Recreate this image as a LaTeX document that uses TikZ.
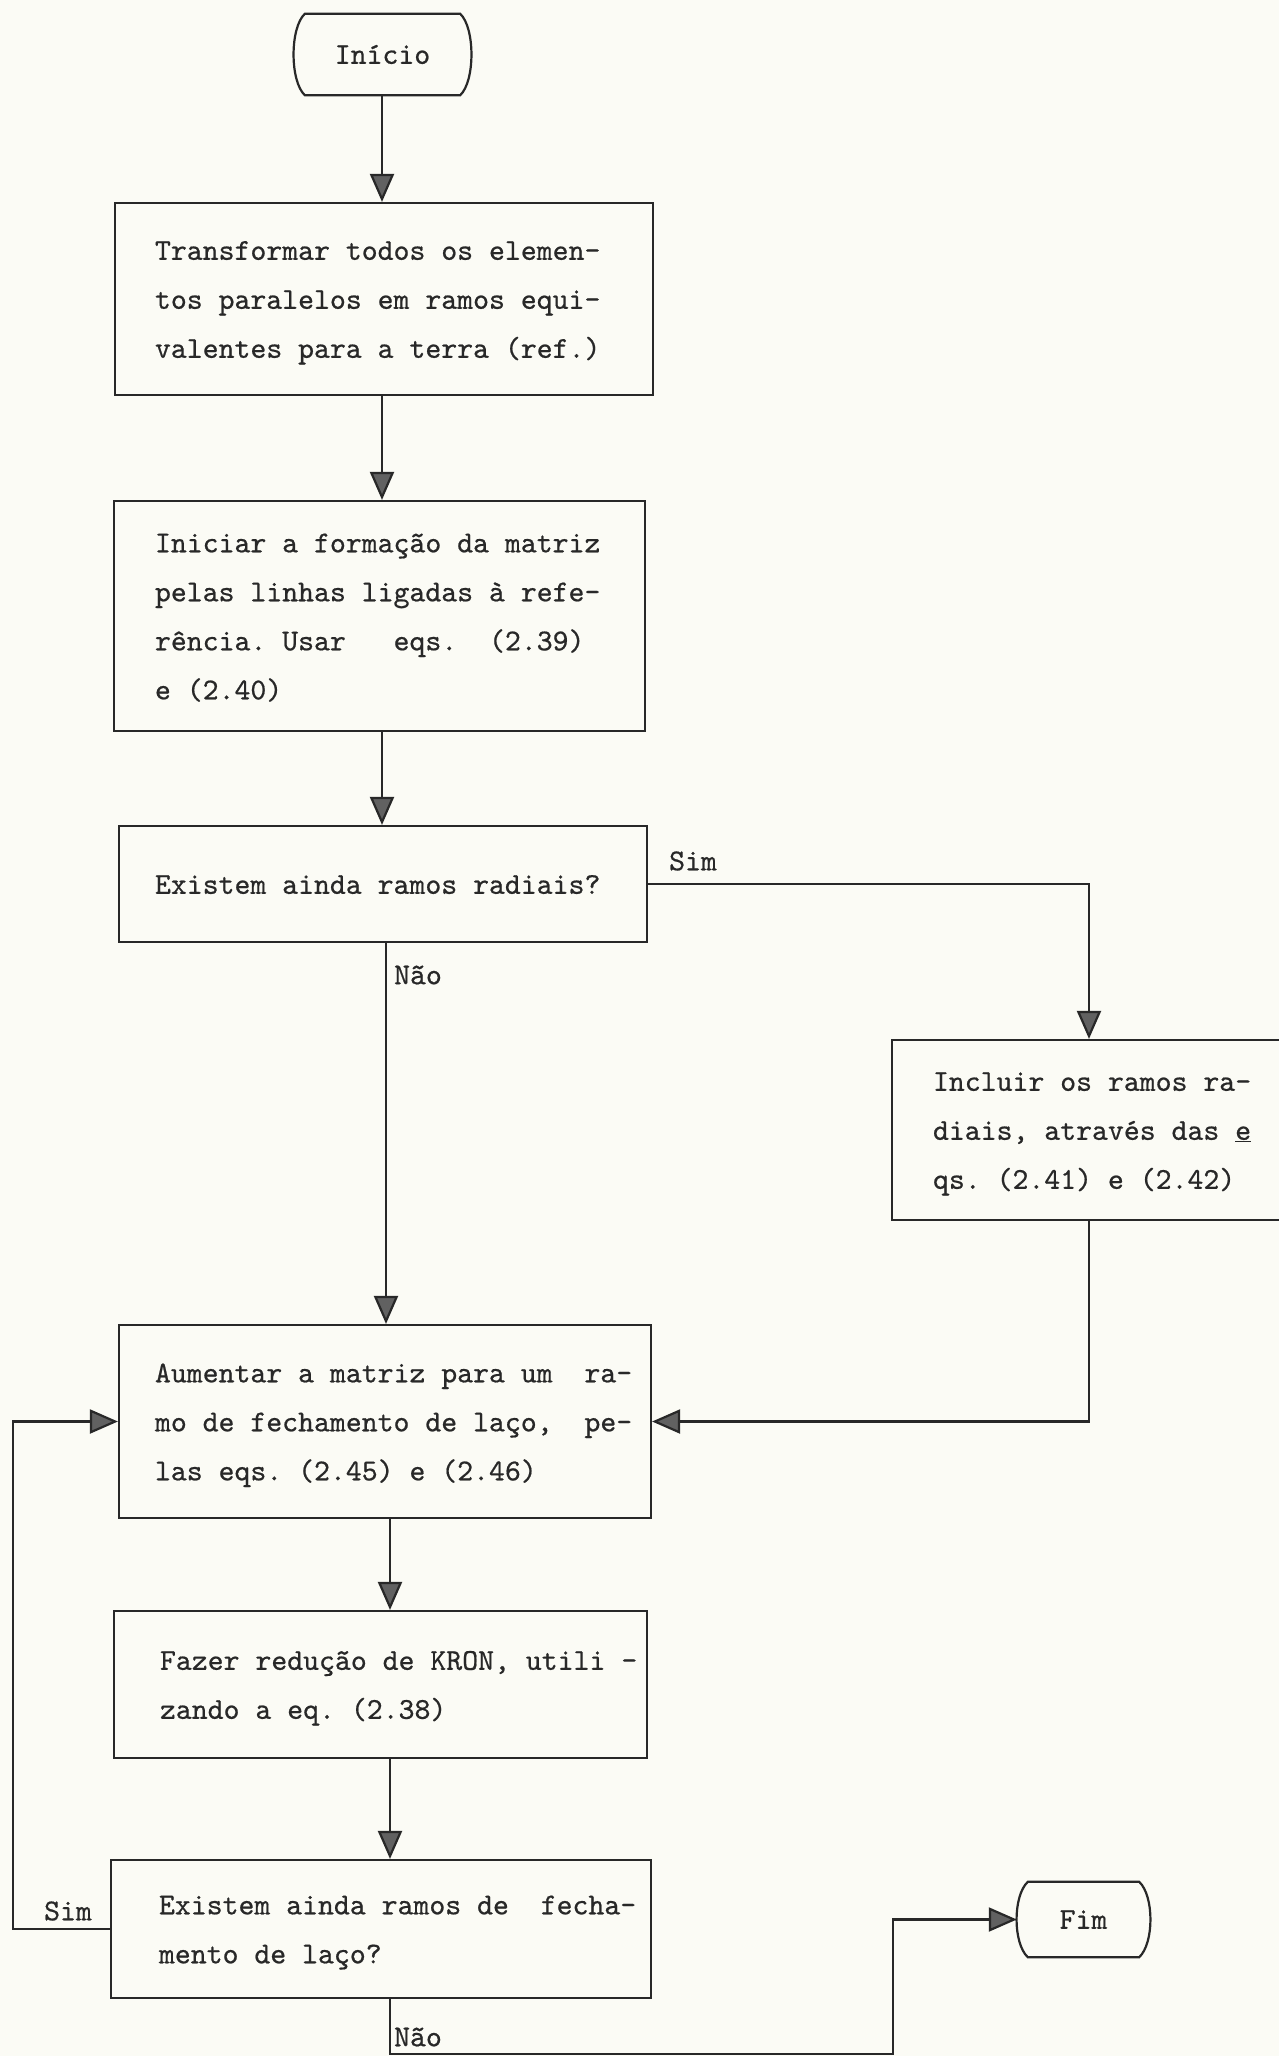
\documentclass[tikz,border=0pt]{standalone}
\usepackage{fontspec}
\usetikzlibrary{arrows.meta,calc}
\newfontfamily\typew{lmmono10-regular}[Extension=.otf, FakeBold=0.6]
\definecolor{paper}{RGB}{251,251,245}
\definecolor{ink}{RGB}{40,40,40}
% left-aligned block of fixed lines inside a box of given width, with a left pad
\newcommand\boxtext[3]{\makebox[#2][l]{\hspace*{#1}\begin{tabular}{@{}l@{}}#3\end{tabular}}}
% terminal outline: straight top and bottom, bowed sides
\newcommand\termframe[1]{%
  \draw[line] ($(#1.north west)+(11,0)$) -- ($(#1.north east)+(-11,0)$)
    .. controls ($(#1.north east)+(4,14)$) and ($(#1.south east)+(4,-14)$) .. ($(#1.south east)+(-11,0)$)
    -- ($(#1.south west)+(11,0)$)
    .. controls ($(#1.south west)+(-4,-14)$) and ($(#1.north west)+(-4,14)$) .. cycle;}

\begin{document}
\begin{tikzpicture}[x=1pt,y=-1pt,
  line/.style={draw=ink, line width=2.2pt},
  arr/.style={line, -{Triangle[length=28pt,width=24pt,fill=black!62]}},
  txt/.style={font=\typew\fontsize{30.3pt}{49pt}\selectfont\frenchspacing, text=ink},
  stepbox/.style={line, txt, rectangle, inner sep=0pt},
  term/.style={txt, inner sep=0pt},
  lbl/.style={txt, inner sep=0pt}]

\useasboundingbox (0,0) rectangle (1279,2056);
\clip (0,0) rectangle (1279,2056);
\fill[paper] (0,0) rectangle (1279,2056);

% columns of the connectors
\coordinate (colA) at (382,0);
\coordinate (colB) at (386,0);
\coordinate (colC) at (390,0);
\coordinate (colR) at (1089,0);
\coordinate (loopL) at (13,0);
\coordinate (bot) at (893,2054);

% terminals
\node[term, minimum width=177pt, minimum height=81pt] (ini) at (382.5,54.5) {Início};
\termframe{ini}
\node[term, minimum width=133pt, minimum height=75pt] (fim) at (1083.5,1919.5) {Fim};
\termframe{fim}

% process and decision boxes
\node[stepbox, minimum width=538pt, minimum height=192pt] (b1) at (384,299)
  {\boxtext{40pt}{538pt}{Transformar todos os elemen-\\tos paralelos em ramos equi-\\valentes para a terra (ref.)}};
\node[stepbox, minimum width=531pt, minimum height=230pt] (b2) at (379.5,616)
  {\boxtext{41pt}{531pt}{Iniciar a formação da matriz\\pelas linhas ligadas à refe-\\rência. Usar\ \ \ eqs.\ \ (2.39)\\e (2.40)}};
\node[stepbox, minimum width=528pt, minimum height=116pt] (b3) at (383,884)
  {\boxtext{36pt}{528pt}{Existem ainda ramos radiais?}};
\node[stepbox, minimum width=398pt, minimum height=180pt] (b4) at (1091,1130)
  {\boxtext{41pt}{398pt}{Incluir os ramos ra-\\diais, através das \underline{e}\\qs. (2.41) e (2.42)}};
\node[stepbox, minimum width=532pt, minimum height=193pt] (b5) at (385,1421.5)
  {\boxtext{36pt}{532pt}{Aumentar a matriz para um\ \ ra-\\mo de fechamento de laço,\ \ pe-\\las eqs. (2.45) e (2.46)}};
\node[stepbox, minimum width=533pt, minimum height=147pt] (b6) at (380.5,1684.5)
  {\boxtext{46pt}{533pt}{Fazer redução de KRON, utili -\\zando a eq. (2.38)}};
\node[stepbox, minimum width=540pt, minimum height=138pt] (b7) at (381,1929)
  {\boxtext{48pt}{540pt}{Existem ainda ramos de\ \ fecha-\\mento de laço?}};

% branch labels
\node[lbl] (simA) at (693,861) {Sim};
\node[lbl] (naoA) at (418,975) {Não};
\node[lbl] (simB) at (68,1911) {Sim};
\node[lbl] (naoB) at (418,2037) {Não};

% connectors
\draw[arr] (ini.south -| colA) -- (b1.north -| colA);
\draw[arr] (b1.south -| colA) -- (b2.north -| colA);
\draw[arr] (b2.south -| colA) -- (b3.north -| colA);
\draw[arr] (b3.east) -| (b4.north -| colR);
\draw[arr] (b3.south -| colB) -- (b5.north -| colB);
\draw[arr] (b4.south -| colR) |- (b5.east);
\draw[arr] (b5.south -| colC) -- (b6.north -| colC);
\draw[arr] (b6.south -| colC) -- (b7.north -| colC);
\draw[arr] (b7.west) -- (b7.west -| loopL) |- (b5.west);
\draw[arr] (b7.south -| colC) |- (bot) |- (fim.west);
\end{tikzpicture}
\end{document}
